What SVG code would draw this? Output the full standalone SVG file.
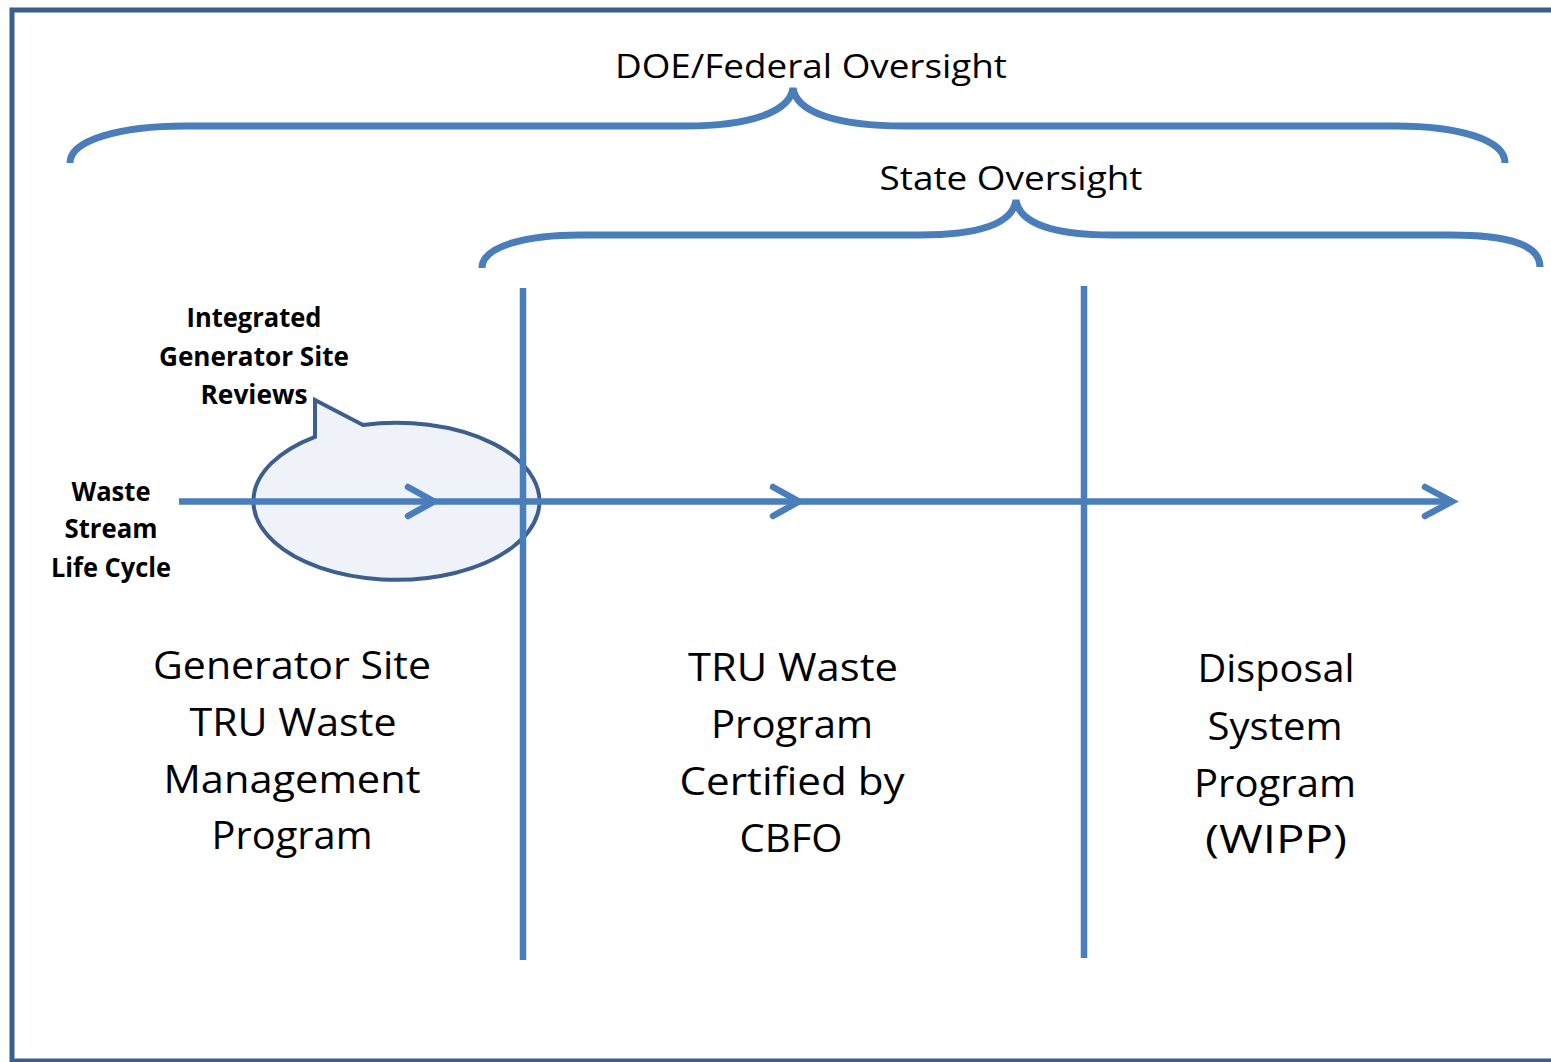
<svg xmlns="http://www.w3.org/2000/svg" width="1551" height="1062" viewBox="0 0 1551 1062">
<style>
.brace{fill:none;stroke:#4A7EBB;stroke-width:7;stroke-linecap:butt}
.ln{fill:none;stroke:#4A7EBB;stroke-width:6.5}
.chev{fill:none;stroke:#4A7EBB;stroke-width:6.5;stroke-linecap:round;stroke-linejoin:miter}
.t{font-family:"Open Sans","Liberation Sans",sans-serif;fill:#000;text-anchor:middle}
.hd{font-size:33px}
.big{font-size:39px}
.sm{font-size:26px;font-weight:bold}
</style>
<rect x="0" y="0" width="1551" height="1062" fill="#fff"/>
<rect id="frame" x="12" y="10" width="1560" height="1051" fill="none" stroke="#3B5F8D" stroke-width="5"/>

<g id="federal-oversight">
<path class="brace" d="M70 163 C70 140 120 126 185 126 L685 126 C750 126 790 112 793 88 C796 112 836 126 905 126 L1395 126 C1460 126 1505 140 1505 163"/>
<text class="t hd" x="811" y="78" textLength="392" lengthAdjust="spacingAndGlyphs">DOE/Federal Oversight</text>
</g>

<g id="state-oversight">
<path class="brace" d="M482 268 C482 245 530 235 580 235 L920 235 C985 235 1013 222 1016 200 C1019 222 1050 235 1112 235 L1450 235 C1510 235 1540 245 1540 267"/>
<text class="t hd" x="1011" y="190" textLength="263" lengthAdjust="spacingAndGlyphs">State Oversight</text>
</g>

<g id="site-reviews">
<path d="M315 436.8 L315 400 L363 425 A143 78.5 0 1 1 315 436.8 Z" fill="#EFF3F9" stroke="#3C5F8E" stroke-width="4" stroke-linejoin="miter"/>
<text class="t sm" x="254" y="327" textLength="135" lengthAdjust="spacingAndGlyphs">Integrated</text>
<text class="t sm" x="254" y="366" textLength="190" lengthAdjust="spacingAndGlyphs">Generator Site</text>
<text class="t sm" x="254" y="404" textLength="107" lengthAdjust="spacingAndGlyphs">Reviews</text>
</g>

<g id="waste-stream">
<text class="t sm" x="111" y="501" textLength="79" lengthAdjust="spacingAndGlyphs">Waste</text>
<text class="t sm" x="111" y="538" textLength="93" lengthAdjust="spacingAndGlyphs">Stream</text>
<text class="t sm" x="111" y="577" textLength="120" lengthAdjust="spacingAndGlyphs">Life Cycle</text>
</g>

<g id="connectors">
<line class="ln" x1="523" y1="288" x2="523" y2="960"/>
<line class="ln" x1="1084" y1="286" x2="1084" y2="958"/>
<line class="ln" x1="179" y1="501.5" x2="1450" y2="501.5"/>
<polyline class="chev" points="408,487 434,501.5 408,516"/>
<polyline class="chev" points="773,487 799,501.5 773,516"/>
<polyline class="chev" points="1425,487 1452,501.5 1425,516"/>
</g>

<g id="generator-site">
<text class="t big" x="292" y="679" textLength="278" lengthAdjust="spacingAndGlyphs">Generator Site</text>
<text class="t big" x="293" y="736" textLength="207" lengthAdjust="spacingAndGlyphs">TRU Waste</text>
<text class="t big" x="292" y="793" textLength="257" lengthAdjust="spacingAndGlyphs">Management</text>
<text class="t big" x="292" y="849" textLength="161" lengthAdjust="spacingAndGlyphs">Program</text>
</g>

<g id="tru-program">
<text class="t big" x="793" y="681" textLength="210" lengthAdjust="spacingAndGlyphs">TRU Waste</text>
<text class="t big" x="792" y="738" textLength="162" lengthAdjust="spacingAndGlyphs">Program</text>
<text class="t big" x="792" y="795" textLength="225" lengthAdjust="spacingAndGlyphs">Certified by</text>
<text class="t big" x="791" y="852" textLength="103" lengthAdjust="spacingAndGlyphs">CBFO</text>
</g>

<g id="disposal-system">
<text class="t big" x="1276" y="682" textLength="157" lengthAdjust="spacingAndGlyphs">Disposal</text>
<text class="t big" x="1275" y="740" textLength="135" lengthAdjust="spacingAndGlyphs">System</text>
<text class="t big" x="1275" y="797" textLength="162" lengthAdjust="spacingAndGlyphs">Program</text>
<text class="t big" x="1276" y="853" textLength="142" lengthAdjust="spacingAndGlyphs">(WIPP)</text>
</g>
</svg>
